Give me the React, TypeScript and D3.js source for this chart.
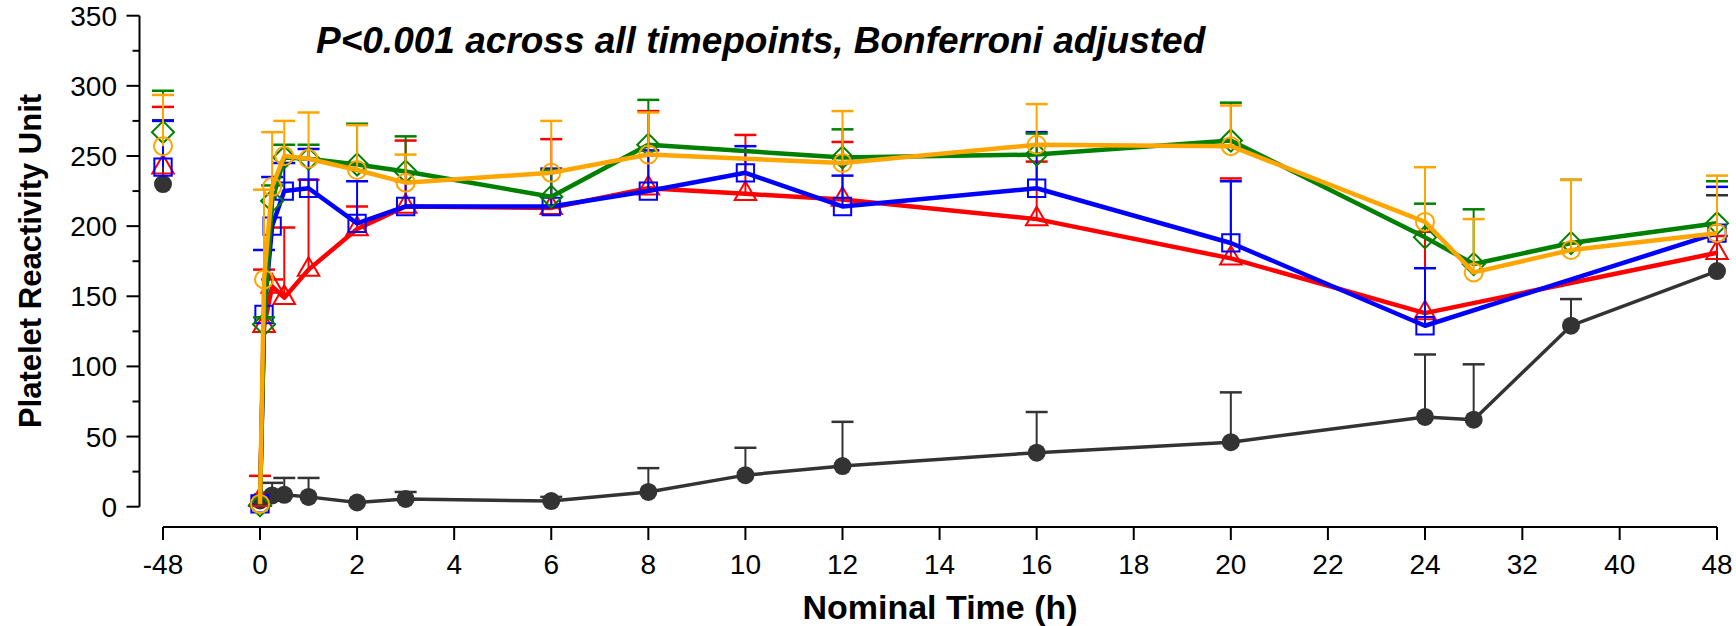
import React from "react";
import * as d3 from "d3";

// nominal times (h); -48 is the pre-dose baseline, drawn apart
const times = [-48, 0, 0.083, 0.25, 0.5, 1, 2, 3, 6, 8, 10, 12, 16, 20, 24, 28, 36, 48];
const xTicks = [-48, 0, 2, 4, 6, 8, 10, 12, 14, 16, 18, 20, 22, 24, 32, 40, 48];
const yTicks = [0, 50, 100, 150, 200, 250, 300, 350];
const yMinor = [25, 75, 125, 175, 225, 275, 325];

const blackMean = [230, 4.5, null, 8, 8.5, 7, 3, 5.5, 4, 10.5, 22.5, 29, 38.5, 46, 64, 62, 129, 168];
const blackUpper = [275.5, null, null, 17, 20.5, 20.5, null, 10.5, 7, 27.5, 42, 60.5, 67.5, 81.5, 108.5, 101.5, 148, 222];
const redMean = [242, 5, 129, 157, 149, 169, 198, 214, 213, 227, 223, 219, 205, 177, 138, null, null, 181];
const redUpper = [285, 22, 169, 162, 199, 233, 214, 261, 262, 282, 265, 260, 246, 234, 196, null, null, 193];
const blueMean = [242, 2, 137, 200, 225, 227, 202, 214, 214, 225, 238, 214, 227, 188, 129, null, null, 195];
const blueUpper = [275, null, 183, 235, 245, 255, 232, 232, 241, 254, 257, 236, 267, 232, 170, null, null, 228];
const greenMean = [267, 1, 130, 218, 249, 248, 244, 239, 221, 258, null, 249, 251, 261, 192, 173, 188, 202];
const greenUpper = [296.5, null, 135, 229, 258, 258, 273, 264, 240, 290, null, 269, 266, 288, 216, 212, 233, 232];
const orangeMean = [257, 2, 162, 228, 250, 248, 240, 231, 238, 251, null, 245, 258, 257, 203, 167, 183, 195];
const orangeUpper = [293.5, null, 226, 267, 275, 281, 272, 251, 275, 281, null, 282, 287, 286, 242, 205, 233, 236];

const series = [
  { name: "black", color: "#333333", mean: blackMean, upper: blackUpper, shape: "dot", width: 3.5 },
  { name: "red", color: "#ff0000", mean: redMean, upper: redUpper, shape: "triangle", width: 4.5 },
  { name: "blue", color: "#0000ff", mean: blueMean, upper: blueUpper, shape: "square", width: 4.5 },
  { name: "green", color: "#008000", mean: greenMean, upper: greenUpper, shape: "diamond", width: 4.5 },
  { name: "orange", color: "#ffa500", mean: orangeMean, upper: orangeUpper, shape: "circle", width: 4.5 },
];

const W = 1736;
const H = 626;
const font = "'Liberation Sans', Arial, sans-serif";

// broken time axis: one step for -48..0, 2 h steps to 24, 8 h steps after
const x = d3.scaleLinear().domain([-48, 0, 24, 48]).range([163, 260, 1425, 1717]);
const y = d3.scaleLinear().domain([0, 350]).range([506.7, 15.7]);
const axisY = 527;
const axisX = 139.5;

function marker(shape, color, cx, cy, key) {
  if (shape === "dot") {
    return <circle key={key} cx={cx} cy={cy} r={9} fill={color} />;
  }
  if (shape === "circle") {
    return <circle key={key} cx={cx} cy={cy} r={9} fill="none" stroke={color} strokeWidth={2} />;
  }
  let d;
  let rot = 0;
  if (shape === "square") d = d3.symbol(d3.symbolSquare, 300)();
  if (shape === "diamond") { d = d3.symbol(d3.symbolSquare, 245)(); rot = 45; }
  if (shape === "triangle") d = d3.symbol(d3.symbolTriangle, 200)();
  return (
    <path key={key} d={d} transform={`translate(${cx},${cy}) rotate(${rot})`}
      fill="none" stroke={color} strokeWidth={2} />
  );
}

function Series({ s }) {
  const pts = times.map((t, i) => ({ t, v: s.mean[i], u: s.upper[i] })).filter(p => p.v != null);
  const line = d3.line().x(p => x(p.t)).y(p => y(p.v));
  const linked = pts.filter(p => p.t >= 0);
  return (
    <g>
      {pts.filter(p => p.u != null).map((p, i) => (
        <g key={"e" + i} stroke={s.color}>
          <line x1={x(p.t)} x2={x(p.t)} y1={y(p.v)} y2={y(p.u)} strokeWidth={2} />
          <line x1={x(p.t) - 11} x2={x(p.t) + 11} y1={y(p.u)} y2={y(p.u)} strokeWidth={2.5} />
        </g>
      ))}
      <path d={line(linked)} fill="none" stroke={s.color} strokeWidth={s.width} strokeLinejoin="round" />
      {pts.map((p, i) => marker(s.shape, s.color, x(p.t), y(p.v), "m" + i))}
    </g>
  );
}

export default function App() {
  return (
    <svg width={W} height={H} style={{ position: "absolute", left: 0, top: 0, background: "#fff" }}
      fontFamily={font}>
      {/* y axis */}
      <line x1={axisX} x2={axisX} y1={y(350)} y2={y(0)} stroke="#000" strokeWidth={2} />
      {yTicks.map(v => (
        <g key={v}>
          <line x1={axisX - 13} x2={axisX} y1={y(v)} y2={y(v)} stroke="#000" strokeWidth={2} />
          <text x={117} y={y(v)} dy="0.36em" textAnchor="end" fontSize={28}>{v}</text>
        </g>
      ))}
      {yMinor.map(v => (
        <line key={v} x1={axisX - 7} x2={axisX} y1={y(v)} y2={y(v)} stroke="#000" strokeWidth={2} />
      ))}
      <text transform={`translate(41,261) rotate(-90)`} textAnchor="middle" fontSize={31} fontWeight="bold">
        Platelet Reactivity Unit
      </text>

      {/* x axis */}
      <line x1={x(-48)} x2={x(48)} y1={axisY} y2={axisY} stroke="#000" strokeWidth={2} />
      {xTicks.map(t => (
        <g key={t}>
          <line x1={x(t)} x2={x(t)} y1={axisY} y2={axisY + 13} stroke="#000" strokeWidth={2} />
          <text x={x(t)} y={574} textAnchor="middle" fontSize={28}>{t}</text>
        </g>
      ))}
      <text x={(x(-48) + x(48)) / 2} y={619} textAnchor="middle" fontSize={34} fontWeight="bold">
        Nominal Time (h)
      </text>

      <text x={316} y={53} fontSize={37} fontWeight="bold" fontStyle="italic">
        P&lt;0.001 across all timepoints, Bonferroni adjusted
      </text>

      {series.map(s => <Series key={s.name} s={s} />)}
    </svg>
  );
}
